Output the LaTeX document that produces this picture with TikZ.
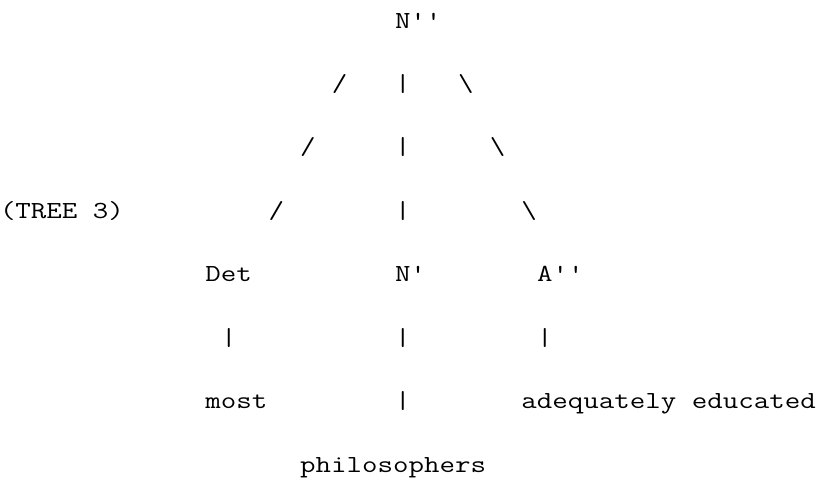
\documentclass[tikz,border=0pt]{standalone}
\usepackage{fontspec}
\tikzset{
  ch/.style={anchor=base west, inner sep=0pt, outer sep=0pt,
    font=\ttfamily\fontsize{24.5pt}{28pt}\selectfont},
}
\newcommand{\tx}[1]{\scalebox{1.228}[1]{#1}}
\newcommand{\cw}{15.8}
\newcommand{\rh}{63.43}
\begin{document}
\begin{tikzpicture}[x=1pt,y=-1pt]
\useasboundingbox (0,0) rectangle (828,479);
% row 1
\node[ch] (root) at (25*\cw,28) {\tx{N''}};
% row 2
\node[ch] (l1) at (21*\cw,28+\rh) {\tx{/}};
\node[ch] (m1) at (25*\cw,28+\rh) {\tx{|}};
\node[ch] (r1) at (29*\cw,28+\rh) {\tx{\textbackslash}};
% row 3
\node[ch] (l2) at (19*\cw,28+2*\rh) {\tx{/}};
\node[ch] (m2) at (25*\cw,28+2*\rh) {\tx{|}};
\node[ch] (r2) at (31*\cw,28+2*\rh) {\tx{\textbackslash}};
% row 4
\node[ch] (label) at (0,28+3*\rh) {\tx{(TREE 3)}};
\node[ch] (l3) at (17*\cw,28+3*\rh) {\tx{/}};
\node[ch] (m3) at (25*\cw,28+3*\rh) {\tx{|}};
\node[ch] (r3) at (33*\cw,28+3*\rh) {\tx{\textbackslash}};
% row 5
\node[ch] (det) at (13*\cw,28+4*\rh) {\tx{Det}};
\node[ch] (nbar) at (25*\cw,28+4*\rh) {\tx{N'}};
\node[ch] (abar) at (34*\cw,28+4*\rh) {\tx{A''}};
% row 6
\node[ch] (dl) at (14*\cw,28+5*\rh) {\tx{|}};
\node[ch] (nl) at (25*\cw,28+5*\rh) {\tx{|}};
\node[ch] (al) at (34*\cw,28+5*\rh) {\tx{|}};
% row 7
\node[ch] (most) at (13*\cw,28+6*\rh) {\tx{most}};
\node[ch] (nl2) at (25*\cw,28+6*\rh) {\tx{|}};
\node[ch] (adj) at (33*\cw,28+6*\rh) {\tx{adequately educated}};
% row 8
\node[ch] (phil) at (19*\cw,28+7*\rh) {\tx{philosophers}};
\end{tikzpicture}
\end{document}
